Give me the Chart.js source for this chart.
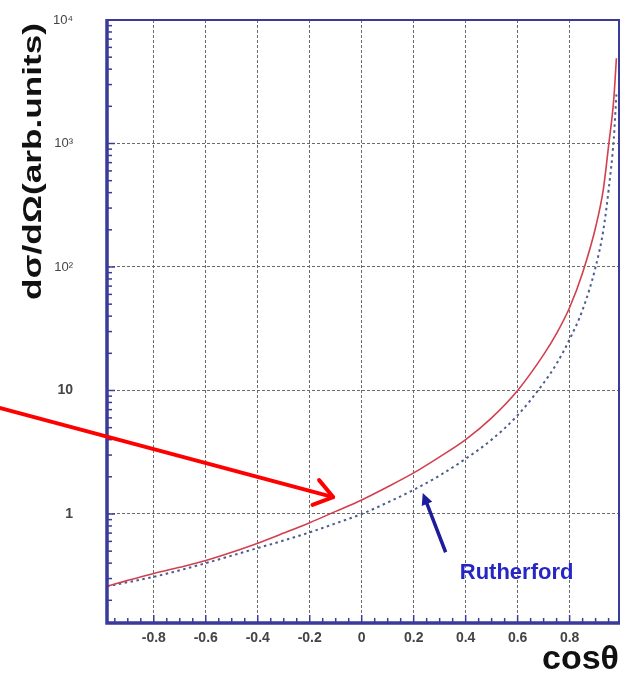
<!DOCTYPE html>
<html><head><meta charset="utf-8">
<script src="https://cdn.jsdelivr.net/npm/chart.js@4.4.1/dist/chart.umd.min.js"></script>
<style>html,body{margin:0;padding:0;background:#fff;}canvas{display:block;}</style>
</head><body>
<canvas id="c" width="621" height="676"></canvas>
<script>
// ---- data ----
const cosTheta = [-0.98,-0.9,-0.8,-0.7,-0.6,-0.5,-0.4,-0.3,-0.2,-0.1,0,0.1,0.2,0.3,0.4,0.5,0.6,0.7,0.75,0.8,0.85,0.9,0.93,0.95,0.97,0.98];
const solidCurve = [0.26,0.29,0.33,0.37,0.42,0.49,0.58,0.70,0.85,1.05,1.3,1.66,2.15,2.9,4.0,6.0,10.0,19.5,29,47,90,210,430,960,2300,4900];
const rutherford = [0.26,0.28,0.31,0.35,0.40,0.46,0.53,0.61,0.71,0.84,1.0,1.24,1.57,2.05,2.8,4.0,6.3,11.5,16.5,26,45,100,200,420,1100,2500];
const xTickValues = [-0.8,-0.6,-0.4,-0.2,0,0.2,0.4,0.6,0.8];
const xTickLabels = ['-0.8','-0.6','-0.4','-0.2','0','0.2','0.4','0.6','0.8'];
const yTickValues = [1,10,100,1000,10000];
const yTickLabels = ['1','10','10\u00B2','10\u00B3','10\u2074'];
const xRange = [-0.98, 0.99];
const yRange = [0.131, 10000];
const xTitle = 'cos\u03B8';
const yTitle = 'd\u03C3/d\u03A9(arb.units)';
// annotation anchors in data coordinates
const redArrow = {from:[-1.39, 7.2], to:[-0.11, 1.37]};
const blueArrow = {from:[0.323, 0.49], to:[0.235, 1.48]};
const rutherfordLabel = {text:'Rutherford', at:[0.596, 0.333]};

const frameColor = '#3a3a9a';
const SANS = '"Liberation Sans", Arial, sans-serif';

const decor = {
  id:'decor',
  afterDatasetsDraw(chart){
    const ctx = chart.ctx, a = chart.chartArea;
    const xs = chart.scales.x, ys = chart.scales.y;
    ctx.save();
    // minor ticks
    ctx.strokeStyle = frameColor; ctx.lineWidth = 1.5;
    for (let d=-1; d<=3; d++){
      for (let k=1; k<=9; k++){
        const v = k*Math.pow(10,d);
        if (v<yRange[0] || v>yRange[1]) continue;
        const y = ys.getPixelForValue(v);
        ctx.beginPath(); ctx.moveTo(a.left, y); ctx.lineTo(a.left+(k===1?8:5), y); ctx.stroke();
      }
    }
    for (let i=-19; i<=19; i++){
      const v = i/20;
      if (v<xRange[0] || v>xRange[1]) continue;
      const x = xs.getPixelForValue(v);
      ctx.beginPath(); ctx.moveTo(x, a.bottom); ctx.lineTo(x, a.bottom-(i%4===0?8:5)); ctx.stroke();
    }
    // frame
    ctx.strokeStyle = frameColor;
    ctx.lineWidth = 2;
    ctx.beginPath(); ctx.moveTo(a.left, a.top); ctx.lineTo(a.right, a.top); ctx.lineTo(a.right, a.bottom); ctx.stroke();
    ctx.lineWidth = 3.5;
    ctx.beginPath(); ctx.moveTo(a.left, a.top-1); ctx.lineTo(a.left, a.bottom); ctx.lineTo(a.right+1, a.bottom); ctx.stroke();

    // red arrow
    const rx0 = xs.getPixelForValue(redArrow.from[0]), ry0 = ys.getPixelForValue(redArrow.from[1]);
    const rx1 = xs.getPixelForValue(redArrow.to[0]), ry1 = ys.getPixelForValue(redArrow.to[1]);
    ctx.strokeStyle = '#ff0000'; ctx.lineWidth = 4; ctx.lineCap='round'; ctx.lineJoin='round';
    ctx.beginPath(); ctx.moveTo(rx0, ry0); ctx.lineTo(rx1, ry1); ctx.stroke();
    let ang = Math.atan2(ry1-ry0, rx1-rx0);
    const hl = 22, ha = 0.62;
    ctx.beginPath();
    ctx.moveTo(rx1 - hl*Math.cos(ang-ha), ry1 - hl*Math.sin(ang-ha));
    ctx.lineTo(rx1, ry1);
    ctx.lineTo(rx1 - hl*Math.cos(ang+ha), ry1 - hl*Math.sin(ang+ha));
    ctx.stroke();

    // blue arrow
    const bx0 = xs.getPixelForValue(blueArrow.from[0]), by0 = ys.getPixelForValue(blueArrow.from[1]);
    const bx1 = xs.getPixelForValue(blueArrow.to[0]), by1 = ys.getPixelForValue(blueArrow.to[1]);
    ang = Math.atan2(by1-by0, bx1-bx0);
    const bh = 13, ba = 0.45;
    ctx.strokeStyle = '#1c1c9c'; ctx.fillStyle = '#1c1c9c'; ctx.lineWidth = 3.5; ctx.lineCap='butt';
    ctx.beginPath(); ctx.moveTo(bx0, by0); ctx.lineTo(bx1 - (bh-2)*Math.cos(ang), by1 - (bh-2)*Math.sin(ang)); ctx.stroke();
    ctx.beginPath();
    ctx.moveTo(bx1, by1);
    ctx.lineTo(bx1 - bh*Math.cos(ang-ba), by1 - bh*Math.sin(ang-ba));
    ctx.lineTo(bx1 - bh*Math.cos(ang+ba), by1 - bh*Math.sin(ang+ba));
    ctx.closePath(); ctx.fill();

    // label
    ctx.fillStyle = '#2626c4';
    ctx.font = 'bold 22px ' + SANS;
    ctx.textAlign = 'center'; ctx.textBaseline = 'middle';
    ctx.fillText(rutherfordLabel.text, xs.getPixelForValue(rutherfordLabel.at[0]), ys.getPixelForValue(rutherfordLabel.at[1]));

    // y title (stretched along its length like the reference)
    ctx.fillStyle = '#111';
    ctx.font = 'bold 25px ' + SANS;
    const w = ctx.measureText(yTitle).width;
    const targetLen = 277;
    ctx.translate(34, a.top + 3);
    ctx.rotate(-Math.PI/2);
    ctx.scale(targetLen / w, 1);
    ctx.textAlign = 'right'; ctx.textBaseline = 'middle';
    ctx.fillText(yTitle, 0, 0);
    ctx.restore();
  }
};

new Chart(document.getElementById('c'), {
  type:'line',
  data:{
    datasets:[
      {
        label:'solid',
        data: cosTheta.map((c,i)=>({x:c, y:solidCurve[i]})),
        borderColor:'#d2404e', borderWidth:1.6, pointRadius:0, fill:false,
        cubicInterpolationMode:'monotone'
      },
      {
        label:'Rutherford',
        data: cosTheta.map((c,i)=>({x:c, y:rutherford[i]})),
        borderColor:'#4e5d8e', borderWidth:2, borderDash:[2.5,3.5], pointRadius:0, fill:false,
        cubicInterpolationMode:'monotone'
      }
    ]
  },
  options:{
    responsive:false, animation:false, devicePixelRatio:1,
    layout:{padding:{top:20, right:2, left:0, bottom:0}},
    plugins:{legend:{display:false}, tooltip:{enabled:false}},
    scales:{
      x:{
        type:'linear', min:xRange[0], max:xRange[1],
        afterBuildTicks(s){ s.ticks = xTickValues.map(v=>({value:v})); },
        afterFit(s){ s.height = 53; s.paddingLeft = 0; s.paddingRight = 0; },
        ticks:{
          autoSkip:false, maxRotation:0, padding:7, color:'#444',
          font:{family:SANS, size:14, weight:'bold'},
          callback:(v,i)=>xTickLabels[i]
        },
        grid:{color:'#6a6a6a', lineWidth:1, drawTicks:false},
        border:{display:false, dash:[3,2]},
        title:{
          display:true, text:xTitle, align:'end', color:'#111',
          font:{family:SANS, size:34, weight:'bold', lineHeight:0.95},
          padding:{top:0, bottom:0}
        }
      },
      y:{
        type:'logarithmic', min:yRange[0], max:yRange[1],
        afterBuildTicks(s){ s.ticks = yTickValues.map(v=>({value:v})); },
        afterFit(s){ s.width = 107; s.paddingTop = 0; s.paddingBottom = 0; },
        ticks:{
          autoSkip:false, padding:34, color:'#444',
          font:(c)=> (c.index < 2 ? {family:SANS, size:14, weight:'bold'} : {family:SANS, size:13, weight:'normal'}),
          callback:(v,i)=>yTickLabels[i]
        },
        grid:{color:'#6a6a6a', lineWidth:1, drawTicks:false},
        border:{display:false, dash:[3,2]},
        title:{display:false}
      }
    }
  },
  plugins:[decor]
});
</script>
</body></html>
